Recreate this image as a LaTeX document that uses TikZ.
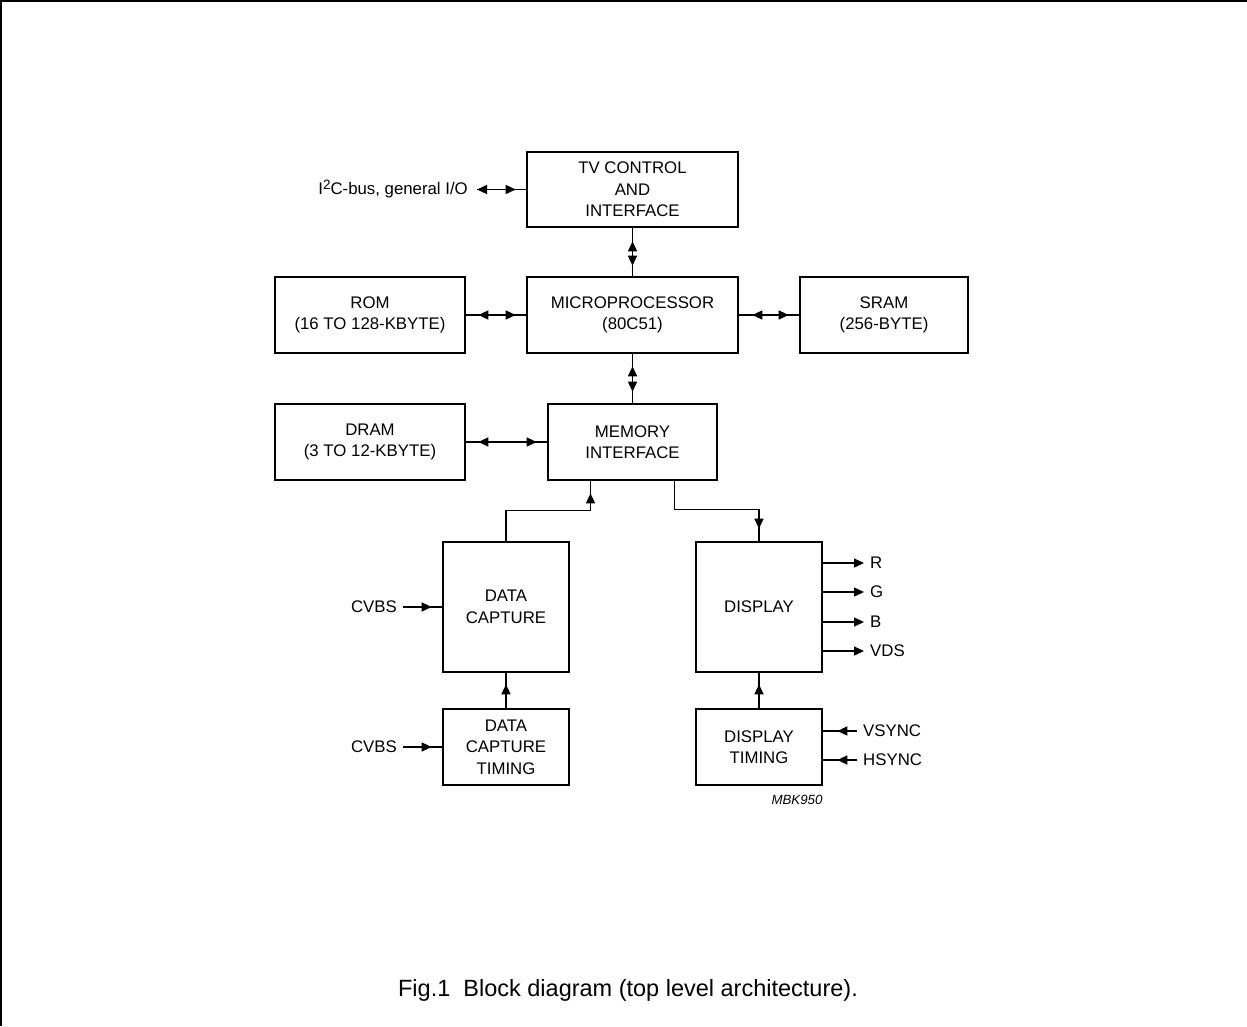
\documentclass[tikz,border=0pt]{standalone}
\usepackage{fontspec}
\setmainfont{Liberation Sans}
\usetikzlibrary{arrows.meta}

\tikzset{
  >={Triangle[length=10pt,width=9pt]},
  block/.style={draw,line width=2.6pt,align=center,inner sep=0pt,font=\fontsize{16.8pt}{21.5pt}\selectfont},
  lbl/.style={inner sep=6pt,font=\fontsize{16.8pt}{21.5pt}\selectfont},
  wire/.style={line width=1.3pt},
  tip/.style={postaction={draw,#1}},
}

\begin{document}
\begin{tikzpicture}[x=1pt,y=-1pt]
\useasboundingbox (0,0) rectangle (1247,1026);
% frame
\draw[line width=1.8pt] (1247,1) -- (1,1) -- (1,1026);

% blocks
\node[block,minimum width=211pt,minimum height=75pt] (tv) at (632.5,189.5) {TV CONTROL\\AND\\INTERFACE};
\node[block,minimum width=211pt,minimum height=76pt] (mpu) at (632.5,315) {MICROPROCESSOR\\(80C51)};
\node[block,minimum width=190pt,minimum height=76pt] (rom) at (370,315) {ROM\\(16 TO 128-KBYTE)};
\node[block,minimum width=168pt,minimum height=76pt] (sram) at (884,315) {SRAM\\(256-BYTE)};
\node[block,minimum width=190pt,minimum height=76pt] (dram) at (370,442) {DRAM\\(3 TO 12-KBYTE)};
\node[block,minimum width=169pt,minimum height=76pt] (mem) at (632.5,442) {MEMORY\\INTERFACE};
\node[block,minimum width=126pt,minimum height=130pt] (dc) at (506,607) {DATA\\CAPTURE};
\node[block,minimum width=126pt,minimum height=76pt] (dct) at (506,747) {DATA\\CAPTURE\\TIMING};
\node[block,minimum width=126pt,minimum height=130pt] (disp) at (759,607) {DISPLAY};
\node[block,minimum width=126pt,minimum height=76pt] (dt) at (759,747) {DISPLAY\\TIMING};

% bus links
\node[lbl,anchor=east,inner sep=9pt] (i2c) at (477,189.5) {I\raisebox{5pt}{\fontsize{13.5pt}{15pt}\selectfont 2}C-bus, general I/O};
\draw[wire,tip={<->,shorten >=10pt}] (i2c.east) -- (tv.west);
\draw[wire,tip={<->,shorten <=13pt,shorten >=10pt}] (tv) -- (mpu);
\draw[wire,tip={<->,shorten <=12pt,shorten >=10pt}] (rom) -- (mpu);
\draw[wire,tip={<->,shorten <=13pt,shorten >=10pt}] (mpu) -- (sram);
\draw[wire,tip={<->,shorten <=12pt,shorten >=11pt}] (mpu) -- (mem);
\draw[wire,tip={<->,shorten <=12pt,shorten >=10pt}] (dram) -- (mem);

% data paths
\draw[wire,tip={->,shorten >=12pt}] (dc.north) -- ++(0,-30) -| ([xshift=-42pt]mem.south);
\draw[wire,tip={->,shorten >=12pt}] ([xshift=42pt]mem.south) -- ++(0,28) -| (disp.north);
\draw[wire,tip={->,shorten >=11pt}] (dct) -- (dc);
\draw[wire,tip={->,shorten >=11pt}] (dt) -- (disp);

% inputs
\node[lbl,anchor=east] (cv1) at (403,607) {CVBS};
\node[lbl,anchor=east] (cv2) at (403,747) {CVBS};
\draw[wire,tip={->,shorten >=10pt}] (cv1) -- (dc);
\draw[wire,tip={->,shorten >=10pt}] (cv2) -- (dct);

% outputs
\foreach \name/\txt/\y in {r/R/563, g/G/592, b/B/622, vds/VDS/651} {
  \node[lbl,anchor=west] (\name) at (864,\y) {\txt};
  \draw[wire,->] (disp.east |- \name) -- (\name);
}
\foreach \name/\txt/\y in {vs/VSYNC/731, hs/HSYNC/760} {
  \node[lbl,anchor=west] (\name) at (857,\y) {\txt};
  \draw[wire,tip={->,shorten >=14pt}] (\name) -- (dt.east |- \name);
}

\node[font=\fontsize{13.3pt}{16pt}\selectfont\itshape] (code) at (797,800) {MBK950};
\node[font=\fontsize{23.5pt}{28pt}\selectfont] (caption) at (628,990) {Fig.1~~Block diagram (top level architecture).};
\end{tikzpicture}
\end{document}
